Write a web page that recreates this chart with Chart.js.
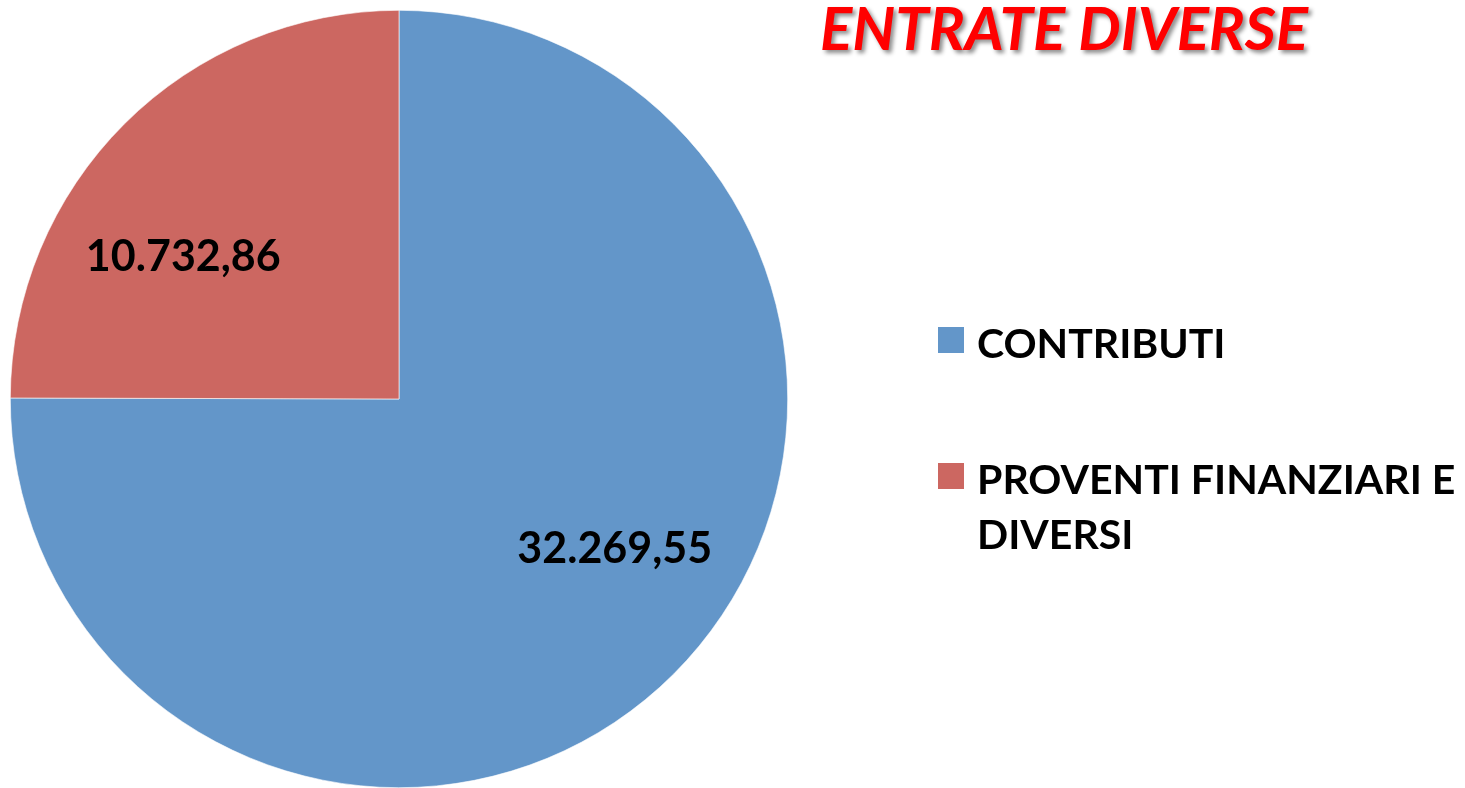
<!DOCTYPE html>
<html>
<head>
<meta charset="utf-8">
<script src="https://cdn.jsdelivr.net/npm/chart.js@4.4.0/dist/chart.umd.min.js"></script>
<style>
  html, body { margin: 0; padding: 0; background: #fff; overflow: hidden; }
  #wrap { width: 1465px; height: 788px; position: relative; }
</style>
</head>
<body>
<div id="wrap"><canvas id="myChart"></canvas></div>
<script>
(function() {
const titleText = 'ENTRATE DIVERSE';
const categories = ['CONTRIBUTI', 'PROVENTI FINANZIARI E DIVERSI'];
const values = [32269.55, 10732.86];
const valueLabels = ['32.269,55', '10.732,86'];
const sliceColors = ['#6396C9', '#CC6761'];

const fontFamily = 'Lato, "Open Sans", sans-serif';

// value labels placed along each slice's mid angle (a bit rotated like the original)
const sliceLabels = {
    id: 'sliceLabels',
    afterDatasetsDraw(chart) {
        const ctx = chart.ctx;
        const arcs = chart.getDatasetMeta(0).data;
        ctx.save();
        ctx.font = 'bold 43px ' + fontFamily;
        ctx.fillStyle = '#000';
        ctx.textAlign = 'center';
        ctx.textBaseline = 'middle';
        arcs.forEach((arc, i) => {
            const mid = (arc.startAngle + arc.endAngle) / 2 - 11 * Math.PI / 180;
            const r = arc.outerRadius * 0.67;
            ctx.fillText(valueLabels[i], arc.x + Math.cos(mid) * r, arc.y + Math.sin(mid) * r + 4);
        });
        ctx.restore();
    }
};

// title and legend drawn in the empty space on the right
const sideDecor = {
    id: 'sideDecor',
    afterDraw(chart) {
        const ctx = chart.ctx;
        ctx.save();
        ctx.font = 'italic bold 60px ' + fontFamily;
        ctx.fillStyle = '#FF0000';
        ctx.textAlign = 'center';
        ctx.textBaseline = 'alphabetic';
        ctx.shadowColor = 'rgba(0,0,0,0.45)';
        ctx.shadowOffsetX = 3;
        ctx.shadowOffsetY = 3;
        ctx.shadowBlur = 4;
        ctx.fillText(titleText, 1064, 50);
        ctx.restore();

        ctx.save();
        ctx.font = 'bold 41px ' + fontFamily;
        ctx.fillStyle = '#000';
        ctx.textAlign = 'left';
        ctx.textBaseline = 'alphabetic';
        const boxX = 938, textX = 977, boxSize = 26, lineH = 55;
        const maxW = 1465 - textX - 4;
        const starts = [358, 494];
        categories.forEach((name, i) => {
            ctx.fillStyle = sliceColors[i];
            ctx.fillRect(boxX, starts[i] - 31, boxSize, boxSize);
            ctx.fillStyle = '#000';
            const words = name.split(' ');
            let line = '';
            let y = starts[i];
            words.forEach(w => {
                const test = line ? line + ' ' + w : w;
                if (ctx.measureText(test).width > maxW && line) {
                    ctx.fillText(line, textX, y);
                    line = w;
                    y += lineH;
                } else {
                    line = test;
                }
            });
            ctx.fillText(line, textX, y);
        });
        ctx.restore();
    }
};

const canvas = document.getElementById('myChart');
const myChart = new Chart(canvas.getContext('2d'), {
    type: 'pie',
    data: {
        labels: categories,
        datasets: [{
            data: values,
            backgroundColor: sliceColors,
            borderColor: '#ffffff',
            borderWidth: 0.6
        }]
    },
    options: {
        responsive: true,
        maintainAspectRatio: false,
        animation: false,
        layout: { padding: { left: 10, top: 10, bottom: 0, right: 677 } },
        plugins: {
            legend: { display: false },
            tooltip: { enabled: false },
            title: { display: false }
        }
    },
    plugins: [sliceLabels, sideDecor]
});
})();
</script>
</body>
</html>
